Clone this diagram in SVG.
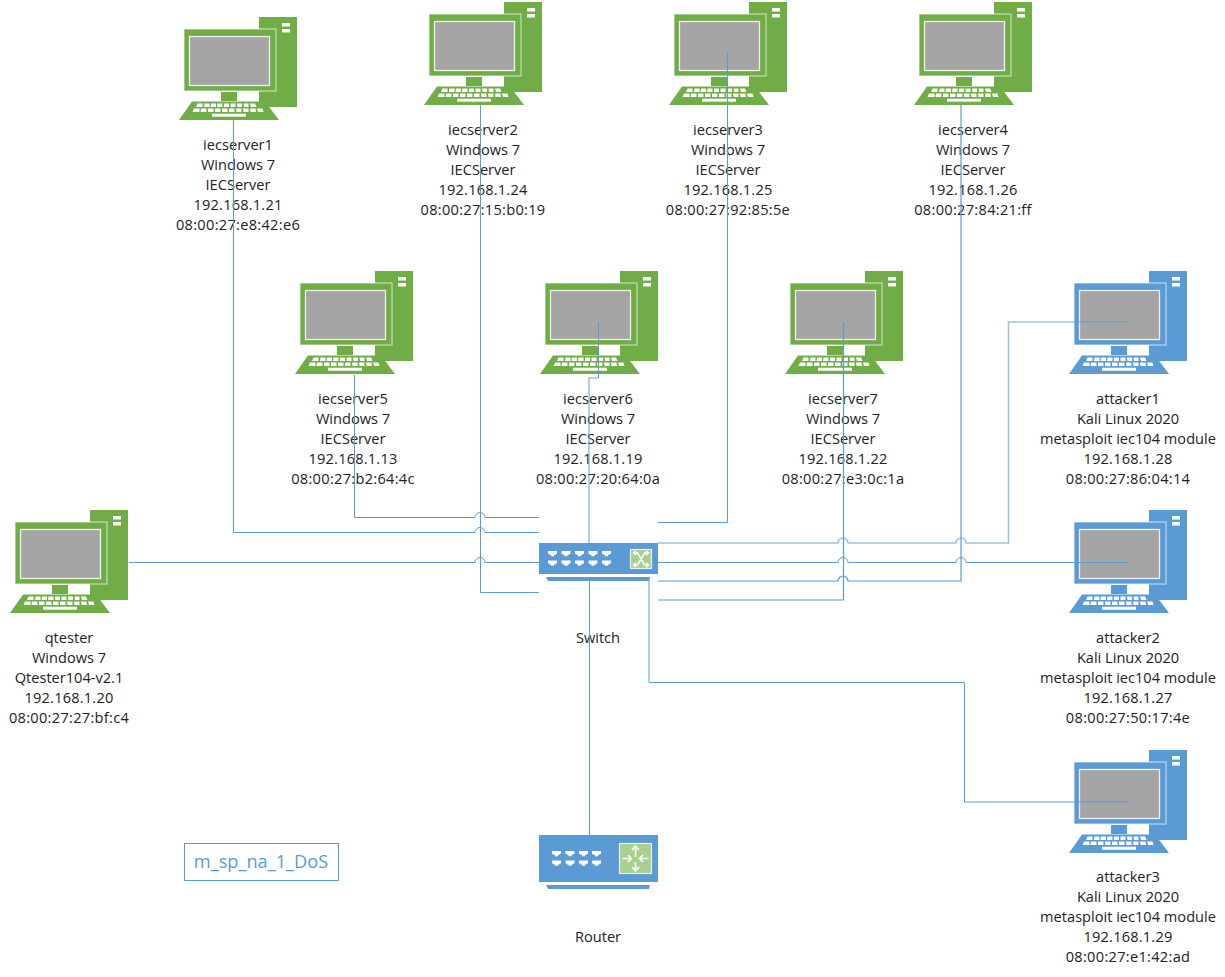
<svg xmlns="http://www.w3.org/2000/svg" xmlns:xlink="http://www.w3.org/1999/xlink" width="1225" height="977" viewBox="0 0 1225 977">
<style>
text{font-family:"Open Sans","Noto Sans","Liberation Sans",sans-serif;font-size:14.6px;fill:#222;text-anchor:middle}
.ip{letter-spacing:.2px}
.mac{letter-spacing:.3px}
.g{color:#70AD47}.b{color:#5B9BD5}
.c{fill:none;stroke:#5B9BD5;stroke-width:1}
.l{fill:none;stroke:#5B9BD5;stroke-width:1.6;stroke-opacity:.6}
.ga{fill:#A9D18E;stroke:#fff;stroke-width:1.2;stroke-opacity:.8}
.ar{fill:none;stroke:#fff;stroke-width:1.6}
</style>
<defs>
<g id="pc">
<rect x="80" y="0" width="38" height="90" fill="currentColor"/>
<rect x="103" y="6" width="8" height="3.500" fill="#fff"/>
<rect x="103" y="12" width="8" height="3.500" fill="#fff"/>
<rect x="5" y="12" width="92" height="62" fill="currentColor" stroke="#fff" stroke-opacity=".7"/>
<rect x="10.500" y="19.500" width="80" height="49" fill="#A5A5A5" stroke="#fff" stroke-opacity=".85" stroke-width="1.300"/>
<rect x="42" y="75" width="16" height="9" fill="currentColor"/>
<polygon points="13,84.500 86,84.500 100,103 0,103" fill="currentColor"/>
<g fill="#fff">
<rect x="33" y="96.700" width="34" height="3"/>
<path d="M18.500 86.500h5v3.500h-6.500zM25.500 86.500h5v3.500h-5.500zM32 86.500h5v3.500h-5.500zM38.500 86.500h5v3.500h-5.500zM45 86.500h5v3.500h-5zM51.500 86.500h5v3.500h-5zM58 86.500h5v3.500h-4.500zM64.500 86.500h5v3.500h-4.500zM71 86.500h5l1.500 3.500h-5.500z"/>
<path d="M15 91.500h5.500v3.500h-7zM22 91.500h5.500v3.500h-6zM29 91.500h5.500v3.500h-5.500zM36 91.500h5.500v3.500h-5.500zM43 91.500h5.500v3.500h-5.500zM50 91.500h5.500v3.500h-5.500zM57 91.500h5.500v3.500h-5zM64 91.500h5.500v3.500h-5zM71 91.500h5.500l.5 3.500h-5.500zM78 91.500h5.500l1 3.500h-5.500z"/>
</g>
</g>
<path id="port" d="M0 0h9v3H7.500v1H6v1.200H3V4H1.500V3H0z" fill="#fff"/>
</defs>

<g id="iecserver1" class="g"><use href="#pc" x="179" y="17"/>
<text x="238" y="150">iecserver1</text><text x="238" y="170">Windows 7</text><text x="238" y="190">IECServer</text><text class="ip" x="238" y="210">192.168.1.21</text><text class="mac" x="238" y="230">08:00:27:e8:42:e6</text></g>
<g id="iecserver2" class="g"><use href="#pc" x="424" y="2"/>
<text x="483" y="135">iecserver2</text><text x="483" y="155">Windows 7</text><text x="483" y="175">IECServer</text><text class="ip" x="483" y="195">192.168.1.24</text><text class="mac" x="483" y="215">08:00:27:15:b0:19</text></g>
<g id="iecserver3" class="g"><use href="#pc" x="669" y="2"/>
<text x="728" y="135">iecserver3</text><text x="728" y="155">Windows 7</text><text x="728" y="175">IECServer</text><text class="ip" x="728" y="195">192.168.1.25</text><text class="mac" x="728" y="215">08:00:27:92:85:5e</text></g>
<g id="iecserver4" class="g"><use href="#pc" x="914" y="2"/>
<text x="973" y="135">iecserver4</text><text x="973" y="155">Windows 7</text><text x="973" y="175">IECServer</text><text class="ip" x="973" y="195">192.168.1.26</text><text class="mac" x="973" y="215">08:00:27:84:21:ff</text></g>
<g id="iecserver5" class="g"><use href="#pc" x="295" y="271"/>
<text x="353" y="404">iecserver5</text><text x="353" y="424">Windows 7</text><text x="353" y="444">IECServer</text><text class="ip" x="353" y="464">192.168.1.13</text><text class="mac" x="353" y="484">08:00:27:b2:64:4c</text></g>
<g id="iecserver6" class="g"><use href="#pc" x="540" y="271"/>
<text x="598" y="404">iecserver6</text><text x="598" y="424">Windows 7</text><text x="598" y="444">IECServer</text><text class="ip" x="598" y="464">192.168.1.19</text><text class="mac" x="598" y="484">08:00:27:20:64:0a</text></g>
<g id="iecserver7" class="g"><use href="#pc" x="785" y="271"/>
<text x="843" y="404">iecserver7</text><text x="843" y="424">Windows 7</text><text x="843" y="444">IECServer</text><text class="ip" x="843" y="464">192.168.1.22</text><text class="mac" x="843" y="484">08:00:27:e3:0c:1a</text></g>
<g id="attacker1" class="b"><use href="#pc" x="1069" y="271"/>
<text x="1128" y="404">attacker1</text><text x="1128" y="424">Kali Linux 2020</text><text x="1128" y="444">metasploit iec104 module</text><text class="ip" x="1128" y="464">192.168.1.28</text><text class="mac" x="1128" y="484">08:00:27:86:04:14</text></g>
<g id="attacker2" class="b"><use href="#pc" x="1069" y="510"/>
<text x="1128" y="643">attacker2</text><text x="1128" y="663">Kali Linux 2020</text><text x="1128" y="683">metasploit iec104 module</text><text class="ip" x="1128" y="703">192.168.1.27</text><text class="mac" x="1128" y="723">08:00:27:50:17:4e</text></g>
<g id="attacker3" class="b"><use href="#pc" x="1069" y="750"/>
<text x="1128" y="882">attacker3</text><text x="1128" y="902">Kali Linux 2020</text><text x="1128" y="922">metasploit iec104 module</text><text class="ip" x="1128" y="942">192.168.1.29</text><text class="mac" x="1128" y="962">08:00:27:e1:42:ad</text></g>
<g id="qtester" class="g"><use href="#pc" x="10" y="510"/>
<text x="69" y="643">qtester</text><text x="69" y="663">Windows 7</text><text x="69" y="683">Qtester104-v2.1</text><text class="ip" x="69" y="703">192.168.1.20</text><text class="mac" x="69" y="723">08:00:27:27:bf:c4</text></g>

<g id="switch">
<rect x="539" y="543" width="119" height="31" fill="#5B9BD5"/>
<polygon points="546,577 650,577 649,581 548,581" fill="#5B9BD5"/>
<use href="#port" x="548" y="551"/><use href="#port" x="561.500" y="551"/><use href="#port" x="575" y="551"/><use href="#port" x="588.500" y="551"/><use href="#port" x="602" y="551"/>
<use href="#port" x="548" y="560.500"/><use href="#port" x="561.500" y="560.500"/><use href="#port" x="575" y="560.500"/><use href="#port" x="588.500" y="560.500"/><use href="#port" x="602" y="560.500"/>
<rect class="ga" x="630.500" y="549.500" width="21" height="19"/>
<path class="ar" d="M634 553h3.500l7 12h3.500M634 565h3.500l7-12h3.500M646 551l2.500 2-2.500 2M646 563l2.500 2-2.500 2M636 551l-2.500 2 2.500 2M636 563l-2.500 2 2.500 2"/>
<text x="598" y="643">Switch</text>
</g>
<g id="router">
<rect x="539" y="835" width="119" height="47" fill="#5B9BD5"/>
<polygon points="546,885 650,885 649,889 548,889" fill="#5B9BD5"/>
<use href="#port" x="552" y="851"/><use href="#port" x="565.500" y="851"/><use href="#port" x="579" y="851"/><use href="#port" x="592" y="851"/>
<use href="#port" x="552" y="860.500"/><use href="#port" x="565.500" y="860.500"/><use href="#port" x="579" y="860.500"/><use href="#port" x="592" y="860.500"/>
<rect class="ga" x="619.500" y="843.500" width="32" height="30"/>
<path class="ar" d="M635.500 846v11M632 850l3.500-4 3.500 4M635.500 871v-9M632 867l3.500 4 3.500-4M622.500 858.500h9M628 855l3.500 3.500-3.500 3.500M648.500 858.500h-9M643 855l-3.500 3.500 3.500 3.500"/>
<text x="598" y="942">Router</text>
</g>
<g id="legend">
<rect x="184.500" y="843.500" width="154" height="37" fill="none" stroke="#5B9BD5"/>
<text x="261" y="868" style="fill:#5B9BD5;font-size:18.200px">m_sp_na_1_DoS</text>
</g>

<g id="connectors">
<path class="c" d="M233.500 120V532.500H475a5 5 0 0 1 10 0H539"/>
<path class="c" d="M354.500 375V517.500H475a5 5 0 0 1 10 0H539"/>
<path class="c" d="M480.500 105V592.500H539"/>
<path class="c" d="M129 562.500H475a5 5 0 0 1 10 0H539"/>
<path class="c" d="M727.500 52V522.500H658"/>
<path class="c" d="M961 105V581H848a5 5 0 0 0-10 0H658" style="stroke-width:1.200"/>
<path class="c" d="M843.500 322V600H658" style="stroke-width:1.200"/>
<path class="l" d="M1128 322H1008.500V543H966a5 5 0 0 0-10 0H848a5 5 0 0 0-10 0H658"/>
<path class="c" d="M1128 562.500H966a5 5 0 0 0-10 0H848a5 5 0 0 0-10 0H658"/>
<path class="c" d="M1128 802H964.500V682.500H649V577"/>
<path class="c" d="M598.500 322V378"/>
<path class="l" d="M598.500 378H589V543"/>
<path class="c" d="M589.500 581V835"/>
</g>
</svg>
